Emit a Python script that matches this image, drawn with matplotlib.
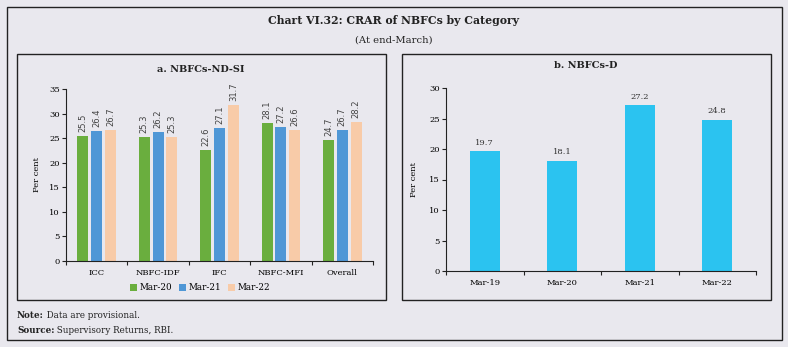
import matplotlib
matplotlib.use("Agg")
import matplotlib.pyplot as plt
import numpy as np
from matplotlib.patches import Rectangle

categories_a = ["ICC", "NBFC-IDF", "IFC", "NBFC-MFI", "Overall"]
mar20 = [25.5, 25.3, 22.6, 28.1, 24.7]
mar21 = [26.4, 26.2, 27.1, 27.2, 26.7]
mar22 = [26.7, 25.3, 31.7, 26.6, 28.2]
series_names = ["Mar-20", "Mar-21", "Mar-22"]

categories_b = ["Mar-19", "Mar-20", "Mar-21", "Mar-22"]
values_b = [19.7, 18.1, 27.2, 24.8]

W, H = 788, 347
BG = "#e9e8ee"
plt.rcParams['font.family'] = ['DejaVu Serif']
fig = plt.figure(figsize=(W/100, H/100), dpi=100, facecolor=BG)

def fx(x): return x / W
def fy(y): return 1 - y / H

def box(x0, y0, x1, y1, lw=1.0):
    fig.add_artist(Rectangle((fx(x0), fy(y1)), fx(x1) - fx(x0), fy(y0) - fy(y1),
                             transform=fig.transFigure, fill=False, edgecolor="#222222", lw=lw))

box(7, 7, 782, 340, 1.0)
box(17, 54, 386, 300, 1.0)
box(402, 54, 771, 300, 1.0)

fig.text(fx(394), fy(20), "Chart VI.32: CRAR of NBFCs by Category", ha="center", va="center",
         fontsize=7.8, fontweight="bold", color="#222222")
fig.text(fx(394), fy(40), "(At end-March)", ha="center", va="center", fontsize=7.2, color="#222222")

def style_axes(ax):
    ax.set_facecolor(BG)
    for s in ["top", "right"]:
        ax.spines[s].set_visible(False)
    for s in ["left", "bottom"]:
        ax.spines[s].set_color("#222222")
        ax.spines[s].set_linewidth(0.8)
    ax.tick_params(axis="y", labelsize=6, length=3, width=0.8, color="#222222", pad=1.5)
    ax.tick_params(axis="x", which="minor", length=3, width=0.8, color="#222222")
    ax.tick_params(axis="x", which="major", length=0, labelsize=6, pad=6)

# Panel a
ax1 = fig.add_axes([fx(66), fy(261), fx(373) - fx(66), fy(89) - fy(261)])
style_axes(ax1)
x = np.arange(len(categories_a))
bw = 0.18
step = 0.225
colors = ["#6aae3e", "#4f97d6", "#f8cba8"]
for i, (vals, name, c) in enumerate(zip([mar20, mar21, mar22], series_names, colors)):
    pos = x + (i - 1) * step
    ax1.bar(pos, vals, width=bw, color=c, label=name)
    for p, v in zip(pos, vals):
        ax1.text(p, v + 0.8, f"{v:.1f}", rotation=90, ha="center", va="bottom",
                 fontsize=6, family="DejaVu Sans", color="#444444")
ax1.set_xlim(-0.5, len(categories_a) - 0.5)
ax1.set_ylim(0, 35)
ax1.set_yticks(range(0, 36, 5))
ax1.set_xticks(x)
ax1.set_xticklabels(categories_a)
ax1.set_xticks(np.arange(-0.5, len(categories_a)), minor=True)
ax1.set_ylabel("Per cent", fontsize=6, labelpad=6)
fig.text(fx(201), fy(70), "a. NBFCs-ND-SI", ha="center", va="center", fontsize=7, fontweight="bold", color="#222222")
leg = fig.legend(*ax1.get_legend_handles_labels(), loc="center", bbox_to_anchor=(fx(200), fy(288)),
                 ncol=3, frameon=False, fontsize=6.3, handlelength=0.8, handleheight=0.8,
                 handletextpad=0.3, columnspacing=0.8)

# Notes
for yy, bold, rest in [(320, "Note:", " Data are provisional."),
                       (335, "Source:", " Supervisory Returns, RBI.")]:
    t1 = fig.text(fx(17), fy(yy), bold, ha="left", va="bottom", fontsize=6.3,
                  fontweight="bold", color="#222222")
    ax1.annotate(rest, xy=(1, 0), xycoords=t1, xytext=(0, 0), textcoords="offset points",
                 ha="left", va="bottom", fontsize=6.3, color="#222222",
                 annotation_clip=False)

# Panel b
ax2 = fig.add_axes([fx(446), fy(271), fx(756) - fx(446), fy(88) - fy(271)])
style_axes(ax2)
xb = np.arange(len(categories_b))
ax2.bar(xb, values_b, width=0.39, color="#2bc3f0")
for p, v in zip(xb, values_b):
    ax2.text(p, v + 0.7, f"{v:.1f}", ha="center", va="bottom", fontsize=6, color="#333333")
ax2.set_xlim(-0.5, len(categories_b) - 0.5)
ax2.set_ylim(0, 30)
ax2.set_yticks(range(0, 31, 5))
ax2.set_xticks(xb)
ax2.set_xticklabels(categories_b)
ax2.set_xticks(np.arange(-0.5, len(categories_b)), minor=True)
ax2.set_ylabel("Per cent", fontsize=6, labelpad=8)
fig.text(fx(586), fy(66), "b. NBFCs-D", ha="center", va="center", fontsize=7, fontweight="bold", color="#222222")

fig.savefig("out.png", dpi=100, facecolor=BG)
